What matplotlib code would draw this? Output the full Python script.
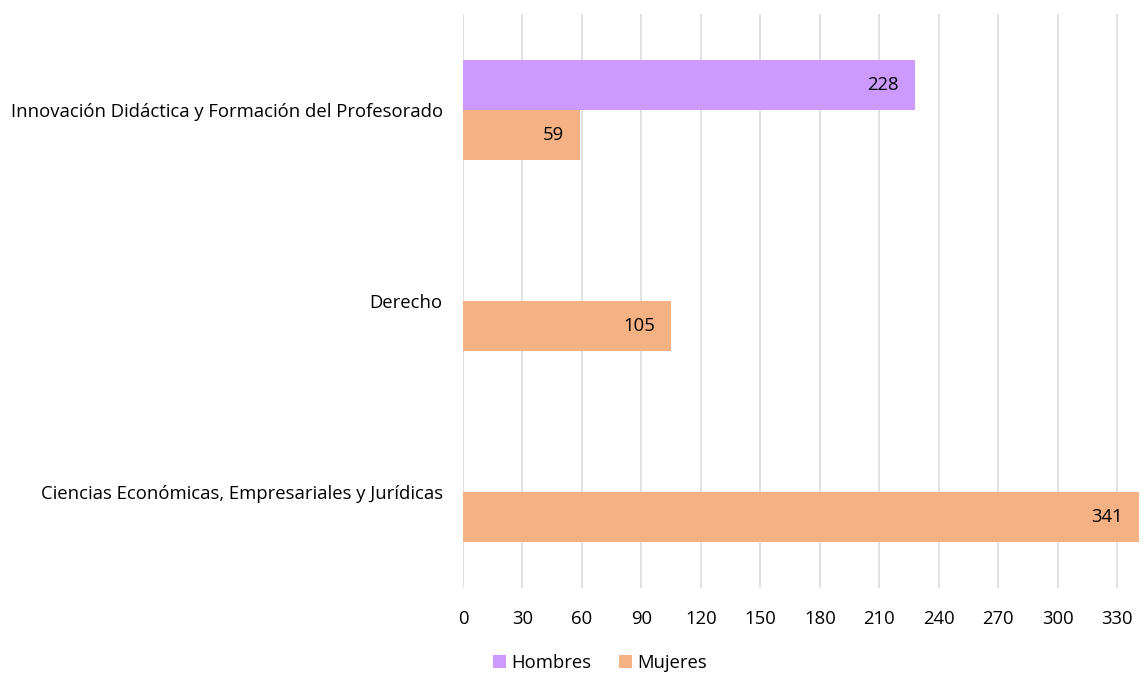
import matplotlib
matplotlib.use("Agg")
import matplotlib.pyplot as plt
import numpy as np

categories = ["Innovación Didáctica y Formación del Profesorado", "Derecho",
              "Ciencias Económicas, Empresariales y Jurídicas"]
hombres = [228, 0, 0]
mujeres = [59, 105, 341]
series_names = ["Hombres", "Mujeres"]
xticks = list(range(0, 331, 30))

plt.rcParams['font.family'] = ['Open Sans', 'DejaVu Sans']
FS = 13.3

fig = plt.figure(figsize=(11.44, 6.76), dpi=100)
W, H = 1144, 676
ax = fig.add_axes([463 / W, 1 - 587.5 / H, (1139 - 463) / W, (587.5 - 14.5) / H])

c_h = "#CC99FF"
c_m = "#F4B183"
bh = 50 / 191
y = np.arange(len(categories))
ax.barh(y - bh / 2, hombres, height=bh, color=c_h, label=series_names[0])
ax.barh(y + bh / 2, mujeres, height=bh, color=c_m, label=series_names[1])

for i in range(len(categories)):
    if hombres[i] > 0:
        ax.annotate(str(hombres[i]), (hombres[i], y[i] - bh / 2), xytext=(-11.5, 0),
                    textcoords="offset points", ha="right", va="center", fontsize=FS)
    if mujeres[i] > 0:
        ax.annotate(str(mujeres[i]), (mujeres[i], y[i] + bh / 2), xytext=(-11.5, 0),
                    textcoords="offset points", ha="right", va="center", fontsize=FS)

ax.set_ylim(len(categories) - 0.5, -0.5)
ax.set_xlim(0, 341)
ax.set_xticks(xticks)
ax.set_xticklabels([str(t) for t in xticks], fontsize=FS)
ax.set_yticks(y)
ax.set_yticklabels(categories, fontsize=FS)
ax.tick_params(axis='both', length=0)
ax.tick_params(axis='y', pad=14.5)
ax.tick_params(axis='x', pad=16)
ax.grid(axis='x', color="#D9D9D9", linewidth=1.1)
ax.set_axisbelow(True)
for s in ax.spines.values():
    s.set_visible(False)

handles, labels = ax.get_legend_handles_labels()
fig.legend(handles, labels, loc="center", bbox_to_anchor=(600 / W, 1 - 663 / H), ncol=2,
           frameon=False, fontsize=FS, handlelength=0.7, handleheight=0.7,
           handletextpad=0.3, columnspacing=1.5)

fig.savefig("out.png", dpi=100)
